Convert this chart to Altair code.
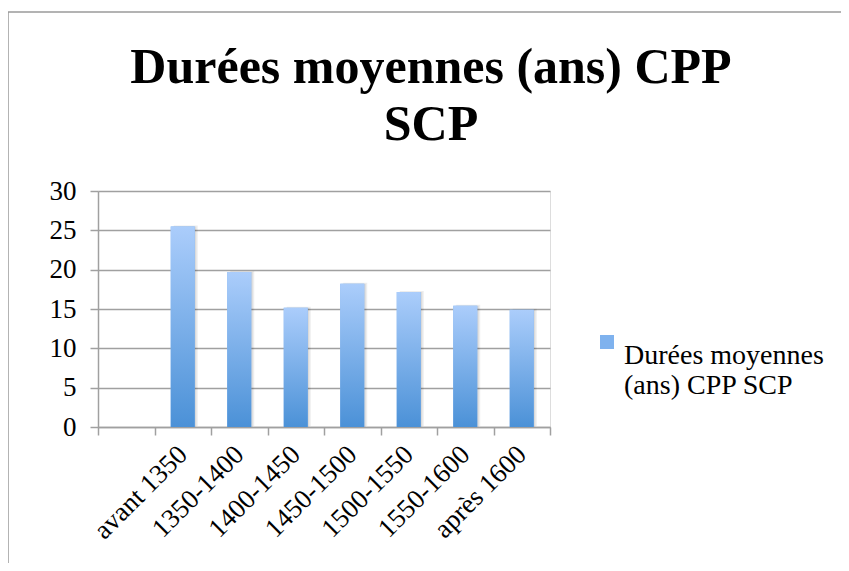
import json
import altair as alt
import pandas as pd

# ---- data ----
categories = ["avant 1350", "1350-1400", "1400-1450", "1450-1500",
              "1500-1550", "1550-1600", "après 1600"]
values = [25.5, 19.7, 15.15, 18.2, 17.15, 15.4, 14.9]
series_name = "Durées moyennes (ans) CPP SCP"
legend_lines = ["Durées moyennes", "(ans) CPP SCP"]
title_lines = ["Durées moyennes (ans) CPP", "SCP"]
y_ticks = [0, 5, 10, 15, 20, 25, 30]
x_domain = [" "] + categories  # first slot is empty in the original

df = pd.DataFrame({"periode": categories, "duree": values, "serie": series_name})

FONT = "Liberation Serif"
GRID = "#a0a0a0"

x_enc = alt.X(
    "periode:N",
    sort=x_domain,
    scale=alt.Scale(domain=x_domain, paddingInner=0, paddingOuter=0),
    axis=alt.Axis(
        title=None, labelAngle=-45, labelAlign="right", labelBaseline="middle",
        labelFont=FONT, labelFontSize=27, labelColor="black", labelPadding=15,
        tickBand="extent", tickSize=8, tickColor=GRID, tickWidth=1.5,
        domainColor=GRID, domainWidth=1.5, grid=False, labelOverlap=False,
    ),
)
y_enc = alt.Y(
    "duree:Q",
    scale=alt.Scale(domain=[0, 30], nice=False),
    axis=alt.Axis(
        title=None, values=y_ticks, grid=True, gridColor=GRID, gridWidth=1.5,
        tickSize=8, tickColor=GRID, tickWidth=1.5, domainColor=GRID,
        domainWidth=1.5, labelFont=FONT, labelFontSize=27, labelColor="black",
        labelPadding=14,
    ),
)

gradient = alt.Gradient(
    gradient="linear",
    stops=[alt.GradientStop(color="#abcdfb", offset=0),
           alt.GradientStop(color="#4b91d7", offset=1)],
    x1=0, x2=0, y1=0, y2=1,
)

border = alt.Chart(alt.Data(values=[{"k": 1}])).mark_rect(
    fillOpacity=0, stroke="#9a9a9a", strokeWidth=1.5
).encode(
    x=alt.value(-90), x2=alt.value(900), y=alt.value(-179), y2=alt.value(600)
)

bar_width = alt.RelativeBandSize(0.425)

shadow1 = alt.Chart(df).mark_bar(
    width=bar_width, color="#000000", opacity=0.07, xOffset=3, yOffset=-1
).encode(x=x_enc, y=y_enc)
shadow2 = alt.Chart(df).mark_bar(
    width=bar_width, color="#000000", opacity=0.08, xOffset=1.5
).encode(x=x_enc, y=y_enc)

legend_bars = alt.Chart(df).mark_bar(width=bar_width).encode(
    x=x_enc,
    y=y_enc,
    color=alt.Color(
        "serie:N",
        scale=alt.Scale(range=["#7fb2ee"]),
        legend=alt.Legend(
            title=None, orient="none", legendX=495, legendY=137,
            symbolType="square", symbolSize=196, symbolStrokeWidth=0,
            labelFont=FONT, labelFontSize=28, labelColor="black",
            labelExpr=json.dumps(legend_lines, ensure_ascii=False),
            labelBaseline="top", labelOffset=3, labelLimit=400, padding=0,
        ),
    ),
)

grad_bars = alt.Chart(df).mark_bar(width=bar_width, fill=gradient).encode(
    x=x_enc, y=y_enc
)

chart = alt.layer(border, shadow1, shadow2, legend_bars, grad_bars).properties(
    width=452,
    height=236,
    autosize="none",
    padding={"left": 90, "top": 183, "right": 291, "bottom": 136},
    title=alt.TitleParams(
        text=title_lines, font=FONT, fontSize=50, fontWeight="bold",
        color="black", anchor="middle", dx=107, offset=0, dy=139,
        lineHeight=57,
    ),
).configure_view(strokeOpacity=0).configure(background="white")

chart.save("out.html", embed_options={"renderer": "svg", "actions": False})
